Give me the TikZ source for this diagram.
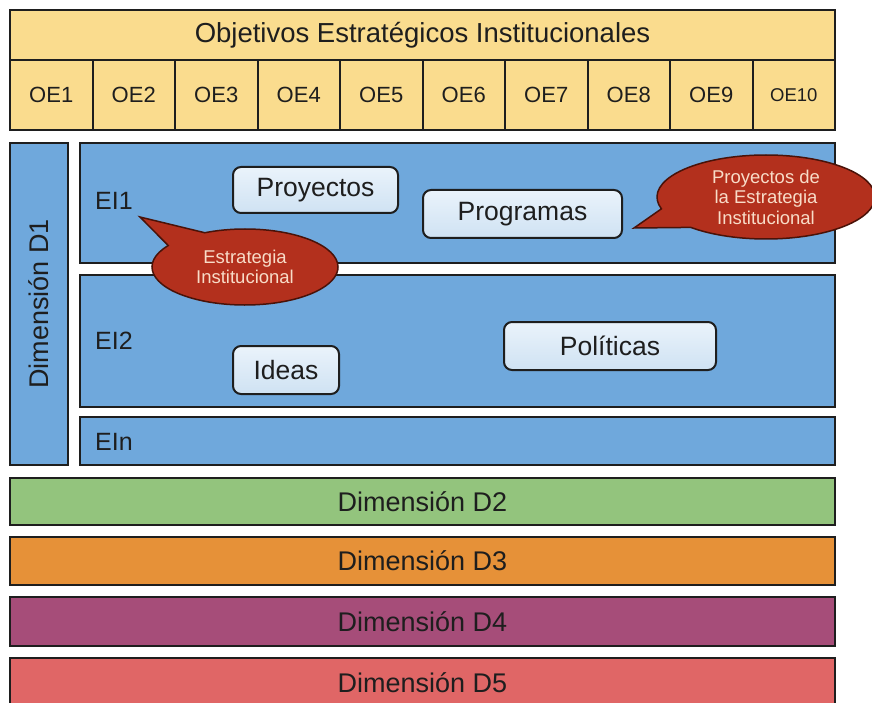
\documentclass[tikz,border=0pt]{standalone}
\usepackage{fontspec}
\setmainfont{Liberation Sans}
\usetikzlibrary{shapes.callouts,shapes.geometric}
\definecolor{oeyellow}{HTML}{FADC8E}
\definecolor{dblue}{HTML}{6FA8DC}
\definecolor{ltop}{HTML}{EAF3FB}
\definecolor{lbot}{HTML}{CFE2F3}
\definecolor{dgreen}{HTML}{93C47D}
\definecolor{dorange}{HTML}{E69138}
\definecolor{dpurple}{HTML}{A64D79}
\definecolor{dred}{HTML}{E06666}
\definecolor{cred}{HTML}{B3301D}
\definecolor{cborder}{HTML}{4A1208}
\definecolor{ctext}{HTML}{F8DCC8}
\definecolor{ink}{HTML}{1E1E1E}
\tikzset{
  fs/.style={font=\fontsize{#1pt}{#1pt}\selectfont},
  box/.style={draw=ink, line width=2pt, rectangle, inner sep=0pt, text=ink},
  yellowbox/.style={box, fill=oeyellow},
  bluebox/.style={box, fill=dblue},
  innerbox/.style={box, rounded corners=8pt, top color=ltop, bottom color=lbot, fs=26.5},
  eilabel/.style={anchor=west, text=ink, fs=25, inner sep=0pt},
  callbox/.style={ellipse callout, draw=cborder, fill=cred, line width=1.5pt, inner sep=0pt,
     text=ctext, align=center, fs=18.5, callout pointer arc=30},
}
\begin{document}
\begin{tikzpicture}[x=1pt,y=-1pt]
\useasboundingbox (0,0) rectangle (872,703);
\fill[white] (0,0) rectangle (872,703);
% title
\node[yellowbox, minimum width=825, minimum height=50, fs=27.5] (title) at (422.5,35) {Objetivos Estratégicos Institucionales};
% OE cells
\foreach \i in {1,...,9}{
  \node[yellowbox, minimum width=82.5, minimum height=70, fs=22] (oe\i) at ({10+82.5*(\i-0.5)},95) {OE\i};
}
\node[yellowbox, minimum width=82.5, minimum height=70, fs=18.5] (oe10) at ({10+82.5*9.5},95) {OE10};
% Dimension D1
\node[bluebox, rotate=90, minimum width=322, minimum height=58, fs=27] (d1) at (39,304) {Dimensión D1};
% EI boxes
\node[bluebox, minimum width=755, minimum height=120] (ei1box) at (457.5,203) {};
\node[bluebox, minimum width=755, minimum height=132] (ei2box) at (457.5,341) {};
\node[bluebox, minimum width=755, minimum height=48] (einbox) at (457.5,441) {};
\node[eilabel] (ei1) at (95,201) {EI1};
\node[eilabel] (ei2) at (95,341) {EI2};
\node[eilabel] (ein) at (95,442) {EIn};
% inner boxes
\node[innerbox, minimum width=165, minimum height=46] (proy) at (315.5,190) {Proyectos};
\node[innerbox, minimum width=199, minimum height=48] (prog) at (522.5,214) {Programas};
\node[innerbox, minimum width=106, minimum height=48] (ideas) at (286,370) {Ideas};
\node[innerbox, minimum width=212, minimum height=48] (pol) at (610,346) {Políticas};
% other dimensions
\node[box, fill=dgreen, minimum width=825, minimum height=47, fs=27] (d2) at (422.5,501.5) {Dimensión D2};
\node[box, fill=dorange, minimum width=825, minimum height=48, fs=27] (d3) at (422.5,561) {Dimensión D3};
\node[box, fill=dpurple, minimum width=825, minimum height=49, fs=27] (d4) at (422.5,621.5) {Dimensión D4};
\node[box, fill=dred, minimum width=825, minimum height=50, fs=27] (d5) at (422.5,683) {Dimensión D5};
% callouts
\coordinate (tip1) at (140,217);
\coordinate (tip2) at (634,228);
\node[callbox, minimum width=186, minimum height=76, callout absolute pointer=(tip1)] (co1) at (245,267) {Estrategia\\[2pt]Institucional};
\node[callbox, minimum width=218, minimum height=84, callout absolute pointer=(tip2)] (co2) at (766,197) {Proyectos de\\[2pt]la Estrategia\\[2pt]Institucional};
\end{tikzpicture}
\end{document}
